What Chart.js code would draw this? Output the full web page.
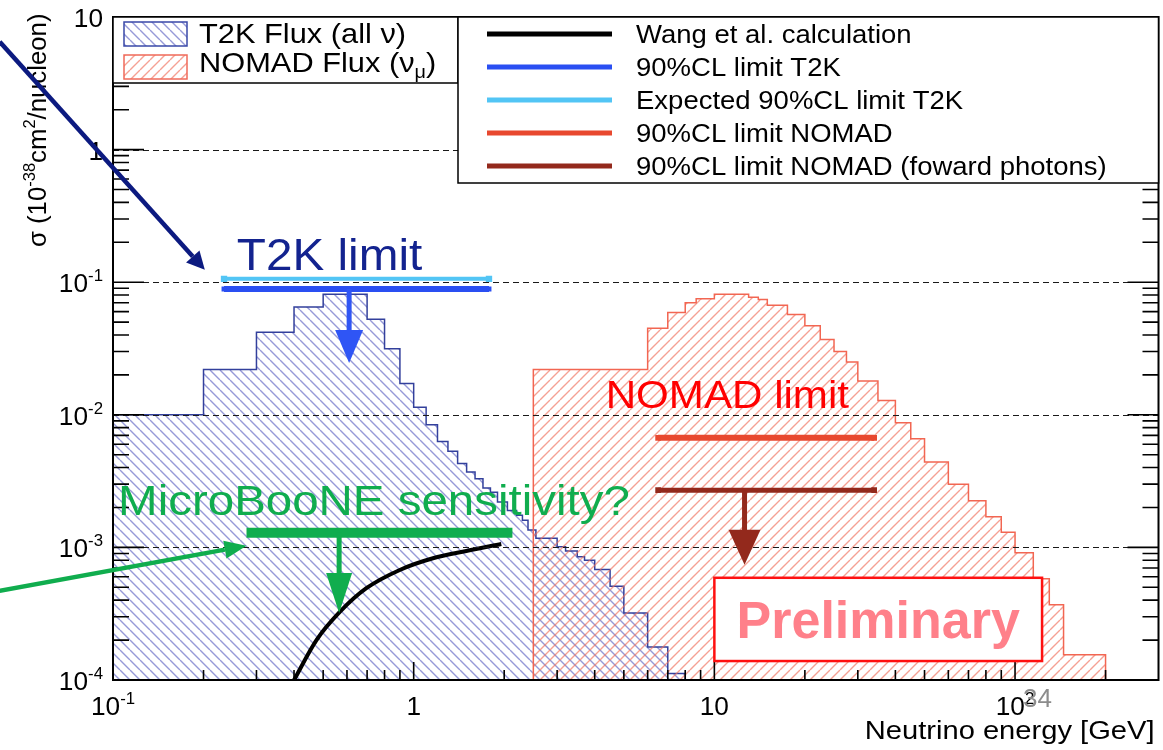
<!DOCTYPE html>
<html>
<head>
<meta charset="utf-8">
<script src="https://cdn.jsdelivr.net/npm/chart.js@4.4.1/dist/chart.umd.min.js"></script>
<style>
  html, body { margin: 0; padding: 0; background: #fff; }
</style>
</head>
<body>
<canvas id="sigmaChart" width="1163" height="750"></canvas>
<script>
// axis ranges and tick decades
const xMin = 0.1, xMax = 300;
const yMin = 1e-4, yMax = 10;
const xLabelDecades = [-1, 0, 1, 2];
const yLabelDecades = [-4, -3, -2, -1, 0, 1];
const gridLevels = [1e-3, 1e-2, 1e-1, 1];

// T2K flux histogram (bin edges in GeV, arbitrary units on sigma axis)
const t2kEdges = [0.1, 0.2, 0.3, 0.4, 0.5, 0.7, 0.8, 0.9, 1.0, 1.1, 1.2, 1.3, 1.4, 1.5, 1.6, 1.7, 1.8, 1.9,
  2.05, 2.2, 2.3, 2.4, 2.55, 3.0, 3.2, 3.5, 3.7, 4.0, 4.5, 5.0, 6.0, 7.0, 8.0];
const t2kFlux = [0.0100, 0.0220, 0.0420, 0.0650, 0.0810, 0.0525, 0.0315, 0.0172, 0.0114, 0.0084, 0.0063,
  0.0053, 0.0043, 0.0037, 0.0033, 0.0028, 0.0026, 0.0022, 0.0019, 0.00175, 0.0016, 0.00135, 0.00117,
  0.00101, 0.00094, 0.00085, 0.00080, 0.00068, 0.00051, 0.00032, 0.000177, 0.000112];

// NOMAD flux histogram
const nomadEdges = [2.5, 6, 7, 8, 8.7, 10, 13, 14, 15, 17.5, 20, 22.5, 25, 27.5, 30, 35, 40, 45, 50, 60,
  70, 80, 90, 100, 115, 130, 145, 200];
const nomadFlux = [0.022, 0.045, 0.059, 0.070, 0.075, 0.081, 0.077, 0.074, 0.067, 0.057, 0.047, 0.037,
  0.030, 0.025, 0.018, 0.0128, 0.0087, 0.0066, 0.0044, 0.0030, 0.00225, 0.0017, 0.0013, 0.00091,
  0.00058, 0.00037, 0.000155];

// Wang et al. calculation
const wangEnergy = [0.40, 0.475, 0.568, 0.696, 0.899, 1.159, 1.497, 1.956];
const wangSigma = [1.0e-4, 2.0e-4, 3.26e-4, 4.92e-4, 6.76e-4, 8.28e-4, 9.4e-4, 1.06e-3];

// limits
const t2kRange = [0.234, 1.78];
const t2kLimit = 0.089;
const t2kExpected = 0.106;
const nomadRange = [6.5, 34];
const nomadLimit = 0.0067;
const nomadForward = 0.0027;
const uboneRange = [0.278, 2.13];
const uboneSens = 0.00129;

// annotation anchors (data units)
const t2kArrow = { x: 0.61, from: t2kLimit, to: 0.0246 };
const nomadArrow = { x: 12.6, from: nomadForward, to: 7.4e-4 };
const uboneArrow = { x: 0.565, from: uboneSens, to: 3.2e-4 };
const navyPointer = { x0: 0.042, y0: 6.5, x1: 0.202, y1: 0.124 };
const greenPointer = { x0: 0.042, y0: 4.7e-4, x1: 0.278, y1: 0.00103 };
const prelimBox = { x0: 10, x1: 123, yTop: 5.9e-4, yBot: 1.39e-4 };

const FONT = '"Liberation Sans", Arial, Helvetica, sans-serif';
const BLUE_LIM = '#2a4ff2', LIGHT_LIM = '#52c5f5', NOMAD_LIM = '#e8482f', NOMAD_FWD = '#93291c';
const GREEN = '#10ad4e', NAVY = '#0c1a80';

function hatch(color, dir) {
  const s = 10;
  const c = document.createElement('canvas');
  c.width = s; c.height = s;
  const g = c.getContext('2d');
  g.strokeStyle = color;
  g.lineWidth = 1.4;
  g.beginPath();
  [-s, 0, s].forEach(o => {
    if (dir === 'down') { g.moveTo(o, 0); g.lineTo(o + s, s); }
    else { g.moveTo(o, s); g.lineTo(o + s, 0); }
  });
  g.stroke();
  return document.createElement('canvas').getContext('2d').createPattern(c, 'repeat');
}
const blueHatch = hatch('rgba(95,100,195,0.65)', 'down');
const redHatch = hatch('rgba(240,110,90,0.65)', 'up');

function histPoints(edges, vals) {
  const n = vals.length;
  const pts = [{ x: edges[0], y: yMin }];
  for (let i = 0; i < n; i++) pts.push({ x: edges[i], y: vals[i] });
  pts.push({ x: edges[n], y: vals[n - 1] });
  pts.push({ x: edges[n], y: yMin });
  return pts;
}
const flat = (range, v) => range.map(e => ({ x: e, y: v }));

// ---- text helpers (slightly stretched like the ROOT output) ----
function runsWidth(ctx, runs, sx) {
  let w = 0;
  runs.forEach(r => { ctx.font = (r.bold ? 'bold ' : '') + r.s + 'px ' + FONT; w += ctx.measureText(r.t).width * sx; });
  return w;
}
function drawRuns(ctx, runs, x, y, color, align, sx) {
  ctx.save();
  const w = runsWidth(ctx, runs, sx);
  let cx = align === 'center' ? x - w / 2 : align === 'right' ? x - w : x;
  ctx.fillStyle = color;
  ctx.textAlign = 'left';
  ctx.textBaseline = 'alphabetic';
  runs.forEach(r => {
    ctx.font = (r.bold ? 'bold ' : '') + r.s + 'px ' + FONT;
    const rw = ctx.measureText(r.t).width * sx;
    ctx.save();
    ctx.translate(cx, y + (r.dy || 0));
    ctx.scale(sx, 1);
    ctx.fillText(r.t, 0, 0);
    ctx.restore();
    cx += rw;
  });
  ctx.restore();
  return w;
}
function powRuns(d) {
  if (d === 0) return [{ t: '1', s: 25 }];
  if (d === 1) return [{ t: '10', s: 25 }];
  return [{ t: '10', s: 25 }, { t: String(d), s: 16, dy: -11 }];
}
function arrowDown(ctx, x, y0, y1, color, w, head, half) {
  ctx.save();
  ctx.strokeStyle = color; ctx.fillStyle = color; ctx.lineWidth = w;
  ctx.beginPath(); ctx.moveTo(x, y0); ctx.lineTo(x, y1 - head + 2); ctx.stroke();
  ctx.beginPath(); ctx.moveTo(x - half, y1 - head); ctx.lineTo(x + half, y1 - head); ctx.lineTo(x, y1); ctx.closePath(); ctx.fill();
  ctx.restore();
}
function pointer(ctx, x0, y0, x1, y1, color, w, head, half) {
  const ang = Math.atan2(y1 - y0, x1 - x0);
  const bx = x1 - head * Math.cos(ang), by = y1 - head * Math.sin(ang);
  ctx.save();
  ctx.strokeStyle = color; ctx.fillStyle = color; ctx.lineWidth = w;
  ctx.beginPath(); ctx.moveTo(x0, y0); ctx.lineTo(bx, by); ctx.stroke();
  ctx.beginPath();
  ctx.moveTo(bx + half * Math.sin(ang), by - half * Math.cos(ang));
  ctx.lineTo(bx - half * Math.sin(ang), by + half * Math.cos(ang));
  ctx.lineTo(x1, y1);
  ctx.closePath(); ctx.fill();
  ctx.restore();
}

const rootStyle = {
  id: 'rootStyle',
  afterDraw(chart) {
    const { ctx, chartArea: a, scales: { x, y } } = chart;
    const px = v => x.getPixelForValue(v), py = v => y.getPixelForValue(v);

    // dashed grid at decades
    ctx.save();
    ctx.strokeStyle = '#1a1a1a'; ctx.lineWidth = 1.2; ctx.setLineDash([6, 4]);
    gridLevels.forEach(v => {
      const yy = Math.round(py(v)) + 0.5;
      ctx.beginPath(); ctx.moveTo(a.left, yy); ctx.lineTo(a.right, yy); ctx.stroke();
    });
    ctx.restore();

    // frame and ticks
    ctx.save();
    ctx.strokeStyle = '#000'; ctx.lineWidth = 2;
    ctx.strokeRect(a.left, a.top, a.right - a.left, a.bottom - a.top);
    ctx.lineWidth = 1.6;
    ctx.beginPath();
    for (let d = -4; d <= 0; d++) {
      for (let m = 1; m <= 9; m++) {
        const v = m * Math.pow(10, d);
        if (v < yMin || v > yMax) continue;
        const yy = py(v), len = m === 1 ? 31 : 16;
        ctx.moveTo(a.left, yy); ctx.lineTo(a.left + len, yy);
        ctx.moveTo(a.right, yy); ctx.lineTo(a.right - len, yy);
      }
    }
    for (let d = -1; d <= 2; d++) {
      for (let m = 1; m <= 9; m++) {
        const v = m * Math.pow(10, d);
        if (v <= xMin || v >= xMax) continue;
        const xx = px(v), len = m === 1 ? 18 : 10;
        ctx.moveTo(xx, a.bottom); ctx.lineTo(xx, a.bottom - len);
      }
    }
    ctx.stroke();
    ctx.restore();

    // legends (ROOT boxes)
    const lgL = { l: a.left, r: 458, t: a.top, b: 83 };
    const lgR = { l: 458, r: a.right, t: a.top, b: 183 };
    ctx.save();
    ctx.fillStyle = '#fff'; ctx.strokeStyle = '#000'; ctx.lineWidth = 1.5;
    [lgL, lgR].forEach(b => { ctx.fillRect(b.l, b.t, b.r - b.l, b.b - b.t); ctx.strokeRect(b.l, b.t, b.r - b.l, b.b - b.t); });
    [[blueHatch, '#3a48a8', 22], [redHatch, '#f06a5a', 55]].forEach(([pat, col, top]) => {
      ctx.fillStyle = pat; ctx.fillRect(124, top, 63, 24);
      ctx.strokeStyle = col; ctx.lineWidth = 1.5; ctx.strokeRect(124, top, 63, 24);
    });
    ctx.restore();
    drawRuns(ctx, [{ t: 'T2K Flux (all \u03bd)', s: 28 }], 199, 43, '#000', 'left', 1.1);
    drawRuns(ctx, [{ t: 'NOMAD Flux (\u03bd', s: 28 }, { t: '\u03bc', s: 18, dy: 6 }, { t: ')', s: 28 }], 199, 72, '#000', 'left', 1.1);

    const rightEntries = [
      ['#000000', 'Wang et al. calculation'],
      [BLUE_LIM, '90%CL limit T2K'],
      [LIGHT_LIM, 'Expected 90%CL limit T2K'],
      [NOMAD_LIM, '90%CL limit NOMAD'],
      [NOMAD_FWD, '90%CL limit NOMAD (foward photons)']
    ];
    rightEntries.forEach(([col, txt], i) => {
      const yy = a.top + 17 + i * 33;
      ctx.save(); ctx.strokeStyle = col; ctx.lineWidth = 5;
      ctx.beginPath(); ctx.moveTo(487, yy); ctx.lineTo(612, yy); ctx.stroke(); ctx.restore();
      drawRuns(ctx, [{ t: txt, s: 25 }], 636, yy + 9, '#000', 'left', 1.1);
    });

    // tick labels
    yLabelDecades.forEach(d => drawRuns(ctx, powRuns(d), a.left - 10, py(Math.pow(10, d)) + 10, '#000', 'right', 1.05));
    xLabelDecades.forEach(d => drawRuns(ctx, powRuns(d), px(Math.pow(10, d)), 715, '#000', 'center', 1.05));

    // axis titles
    ctx.save();
    ctx.translate(46, 247); ctx.rotate(-Math.PI / 2);
    drawRuns(ctx, [{ t: '\u03c3 (10', s: 25 }, { t: '-38', s: 16, dy: -11 }, { t: 'cm', s: 25 },
      { t: '2', s: 16, dy: -11 }, { t: '/nucleon)', s: 25 }], 0, 0, '#000', 'left', 1.03);
    ctx.restore();
    drawRuns(ctx, [{ t: 'Neutrino energy [GeV]', s: 26 }], a.right - 4, 739, '#000', 'right', 1.12);

    // limit arrows
    arrowDown(ctx, px(t2kArrow.x), py(t2kArrow.from), py(t2kArrow.to), '#2f55f5', 5, 33, 14);
    arrowDown(ctx, px(nomadArrow.x), py(nomadArrow.from), py(nomadArrow.to), NOMAD_FWD, 5, 35, 16);
    arrowDown(ctx, px(uboneArrow.x), py(uboneArrow.from), py(uboneArrow.to), GREEN, 5, 40, 13);

    // annotation text
    drawRuns(ctx, [{ t: 'T2K limit', s: 45 }], px(0.258), py(0.124), '#13238f', 'left', 1.06);
    drawRuns(ctx, [{ t: 'NOMAD limit', s: 39 }], px(4.35), py(0.01125), '#ff0000', 'left', 1.08);
    drawRuns(ctx, [{ t: 'MicroBooNE sensitivity?', s: 42 }], px(0.104), py(0.00175), GREEN, 'left', 1.13);

    // pointers from outside
    pointer(ctx, px(navyPointer.x0), py(navyPointer.y0), px(navyPointer.x1), py(navyPointer.y1), NAVY, 4.5, 18, 9);
    pointer(ctx, px(greenPointer.x0), py(greenPointer.y0), px(greenPointer.x1), py(greenPointer.y1), GREEN, 4.5, 22, 9);

    // Preliminary box
    const bx0 = px(prelimBox.x0), bx1 = px(prelimBox.x1), by0 = py(prelimBox.yTop), by1 = py(prelimBox.yBot);
    ctx.save();
    ctx.fillStyle = '#fff'; ctx.fillRect(bx0, by0, bx1 - bx0, by1 - by0);
    ctx.strokeStyle = '#ff1010'; ctx.lineWidth = 2.5; ctx.strokeRect(bx0, by0, bx1 - bx0, by1 - by0);
    ctx.restore();
    drawRuns(ctx, [{ t: 'Preliminary', s: 51, bold: true }], (bx0 + bx1) / 2, by0 + 60, '#ff808a', 'center', 1.02);

    // slide page number
    drawRuns(ctx, [{ t: '34', s: 26 }], px(100) + 8, 707, '#8c8c8c', 'left', 1.0);
  }
};

new Chart(document.getElementById('sigmaChart').getContext('2d'), {
  type: 'line',
  data: {
    datasets: [
      { label: 'Wang et al. calculation', data: wangEnergy.map((e, i) => ({ x: e, y: wangSigma[i] })),
        borderColor: '#000', borderWidth: 4, cubicInterpolationMode: 'monotone', pointRadius: 0, order: 1 },
      { label: 'MicroBooNE', data: flat(uboneRange, uboneSens), borderColor: GREEN, borderWidth: 10,
        pointRadius: 0, order: 1 },
      { label: 'Expected 90%CL limit T2K', data: flat(t2kRange, t2kExpected), borderColor: LIGHT_LIM,
        borderWidth: 4, pointStyle: 'rect', pointRadius: 4.5, pointBackgroundColor: LIGHT_LIM, pointBorderWidth: 0, order: 2 },
      { label: '90%CL limit T2K', data: flat(t2kRange, t2kLimit), borderColor: BLUE_LIM,
        borderWidth: 6, pointStyle: 'rect', pointRadius: 3.5, pointBackgroundColor: BLUE_LIM, pointBorderWidth: 0, order: 2 },
      { label: '90%CL limit NOMAD', data: flat(nomadRange, nomadLimit), borderColor: NOMAD_LIM,
        borderWidth: 6, pointStyle: 'rect', pointRadius: 4, pointBackgroundColor: NOMAD_LIM, pointBorderWidth: 0, order: 2 },
      { label: '90%CL limit NOMAD (foward photons)', data: flat(nomadRange, nomadForward), borderColor: NOMAD_FWD,
        borderWidth: 5, pointStyle: 'rect', pointRadius: 4, pointBackgroundColor: NOMAD_FWD, pointBorderWidth: 0, order: 2 },
      { label: 'NOMAD Flux', data: histPoints(nomadEdges, nomadFlux), stepped: 'before', fill: 'start',
        backgroundColor: redHatch, borderColor: '#f26652', borderWidth: 1.5, pointRadius: 0, order: 8 },
      { label: 'T2K Flux', data: histPoints(t2kEdges, t2kFlux), stepped: 'before', fill: 'start',
        backgroundColor: blueHatch, borderColor: '#33409c', borderWidth: 1.5, pointRadius: 0, order: 9 }
    ]
  },
  options: {
    responsive: false,
    animation: false,
    layout: { padding: { top: 17, right: 3, left: 0, bottom: 0 } },
    plugins: { legend: { display: false }, tooltip: { enabled: false } },
    scales: {
      x: {
        type: 'logarithmic', min: xMin, max: xMax,
        ticks: { display: false }, grid: { display: false }, border: { display: false },
        afterFit: s => { s.height = 70; }
      },
      y: {
        type: 'logarithmic', min: yMin, max: yMax,
        ticks: { display: false }, grid: { display: false }, border: { display: false },
        afterFit: s => { s.width = 113; }
      }
    }
  },
  plugins: [rootStyle]
});
</script>
</body>
</html>
